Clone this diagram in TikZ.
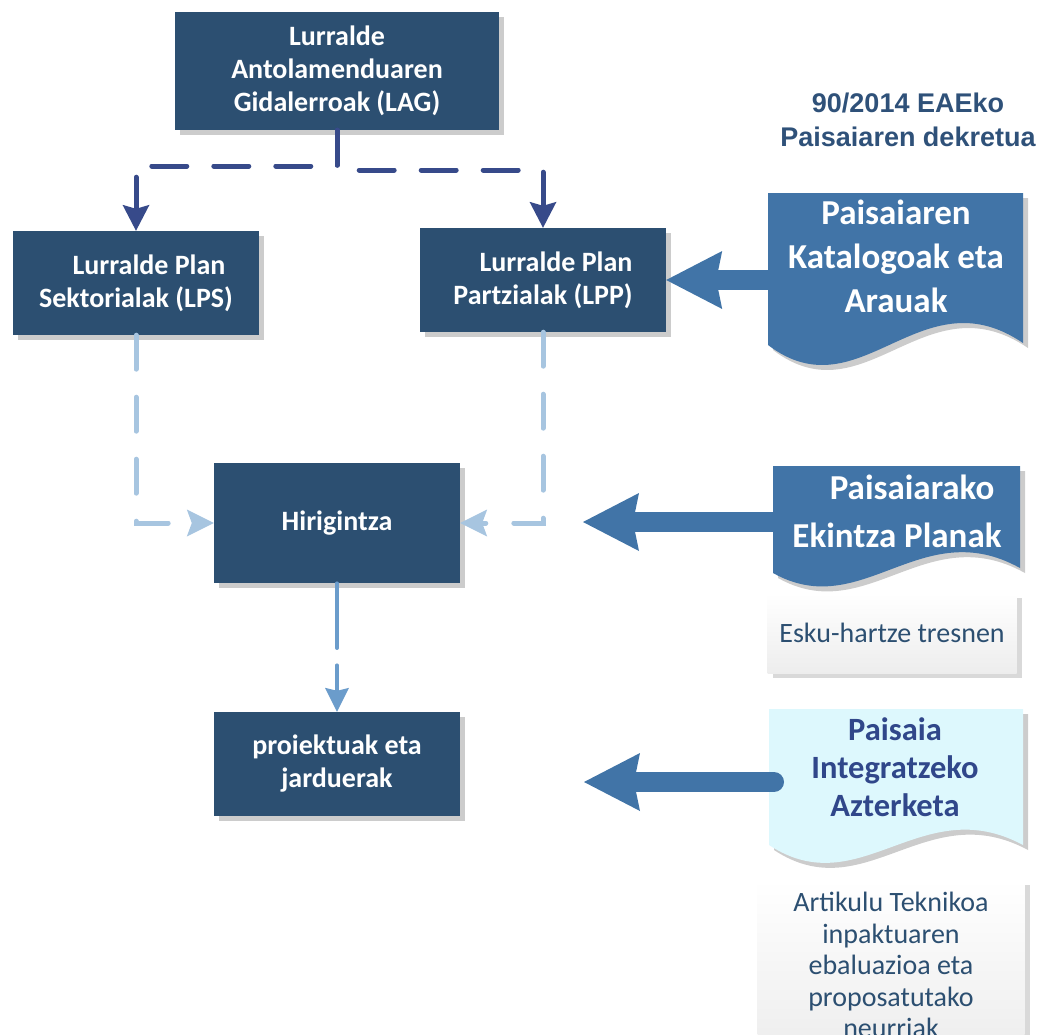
\documentclass[tikz,border=0pt]{standalone}
\usepackage{fontspec}
\setmainfont{Carlito}
\newfontfamily\titlefont{Liberation Sans}
\usetikzlibrary{positioning, arrows.meta, shadows}
\definecolor{boxblue}{HTML}{2C4F71}
\definecolor{navyline}{HTML}{374A8A}
\definecolor{docblue}{HTML}{4174A7}
\definecolor{lightline}{HTML}{A7C5E0}
\definecolor{midline}{HTML}{6B9CCB}
\definecolor{palecyan}{HTML}{DDF8FD}
\definecolor{navytext}{HTML}{30478A}
\definecolor{titleblue}{HTML}{2F5179}

\begin{document}
\begin{tikzpicture}[x=1pt, y=-1pt,
  planbox/.style={rectangle, fill=boxblue, text=white, align=center, inner sep=0pt,
    minimum width=246pt, minimum height=104pt, font=\bfseries\fontsize{28}{33}\selectfont,
    drop shadow={shadow xshift=5pt, shadow yshift=-5pt, fill=black!20, opacity=1}},
  notebox/.style={rectangle, top color=white, bottom color=black!7, text=boxblue, align=center,
    inner sep=0pt, font=\fontsize{28}{31.5}\selectfont,
    drop shadow={shadow xshift=5pt, shadow yshift=-5pt, fill=black!15, opacity=1}},
  navydash/.style={draw=navyline, line width=5pt, line cap=round, dash pattern=on 35pt off 27pt,
    -{Stealth[length=26pt, width=27pt, inset=4pt, line width=0pt]}},
  lightdash/.style={draw=lightline, line width=5pt, line cap=round, dash pattern=on 34pt off 28pt,
    -{Stealth[length=27pt, width=27pt, inset=5pt, line width=0pt]}},
  middash/.style={draw=midline, line width=3.5pt, line cap=round, dash pattern=on 65pt off 17pt,
    -{Stealth[length=24pt, width=24pt, inset=3pt, line width=0pt]}},
  fatarrow/.style={draw=docblue, line width=20pt,
    -{Stealth[length=56pt, width=58pt, inset=6pt, line width=0pt]}}]
\useasboundingbox (0,0) rectangle (1044,1034);

% Plan boxes
\node[planbox, minimum width=324pt, minimum height=118pt] (lag) at (337,71) {Lurralde\\Antolamenduaren\\Gidalerroak (LAG)};
\node[planbox] (lps) at (136,283) {\hspace*{26pt}Lurralde Plan\\Sektorialak (LPS)};
\node[planbox] (lpp) at (543,280) {\hspace*{26pt}Lurralde Plan\\Partzialak (LPP)};
\node[planbox, minimum height=120pt] (hiri) at (337,523) {Hirigintza};
\node[planbox] (proj) at (337,764) {proiektuak eta\\jarduerak};

% Decree title
\node[font=\titlefont\bfseries\fontsize{27}{34}\selectfont, text=titleblue, align=center] (title) at (908,120) {90/2014 EAEko\\Paisaiaren dekretua};

% Document shapes (wavy bottom)
\fill[black!20, xshift=5pt, yshift=-5pt] (768,193) -- (1023,193) -- (1023,343) .. controls (920,273) and (860,415) .. (768,345) -- cycle;
\fill[docblue] (768,193) -- (1023,193) -- (1023,343) .. controls (920,273) and (860,415) .. (768,345) -- cycle;
\node[text=white, align=center, font=\bfseries\fontsize{35}{44}\selectfont] (katalog) at (896,256) {Paisaiaren\\Katalogoak eta\\Arauak};

\fill[black!20, xshift=5pt, yshift=-5pt] (773,466) -- (1020,466) -- (1020,568) .. controls (921,513) and (862,623) .. (773,573) -- cycle;
\fill[docblue] (773,466) -- (1020,466) -- (1020,568) .. controls (921,513) and (862,623) .. (773,573) -- cycle;
\node[text=white, align=center, font=\bfseries\fontsize{35}{48}\selectfont] (ekintza) at (897,511) {\hspace*{30pt}Paisaiarako\\Ekintza Planak};

\fill[black!20, xshift=5pt, yshift=-5pt] (769,709) -- (1023,709) -- (1023,845) .. controls (921,790) and (860,905) .. (769,845) -- cycle;
\fill[palecyan] (769,709) -- (1023,709) -- (1023,845) .. controls (921,790) and (860,905) .. (769,845) -- cycle;
\node[text=navytext, align=center, font=\bfseries\fontsize{32.5}{38}\selectfont] (azterketa) at (895,767) {Paisaia\\Integratzeko\\Azterketa};

% Note boxes
\node[notebox, minimum width=249pt, minimum height=80pt] (esku) at (892,633) {Esku-hartze tresnen};
\node[notebox, minimum width=267pt, minimum height=170pt] (artikulu) at (891,965) {Artikulu Teknikoa\\inpaktuaren\\ebaluazioa eta\\proposatutako\\neurriak};

% Connectors
\coordinate (lag-split-l) at (337,166);
\coordinate (lag-split-r) at (337,170);
\draw[navydash] (lag.south) -- (lag-split-l) -| (lps.north);
\draw[navydash] (lag.south) -- (lag-split-r) -| (lpp.north);
\draw[lightdash] (lps.south) |- (hiri.west);
\draw[lightdash] (lpp.south) |- (hiri.east);
\draw[middash] (hiri.south) -- (proj.north);

% Fat arrows from the decree documents
\coordinate (katalog-in) at (768,280);
\coordinate (ekintza-in) at (773,522);
\coordinate (ekintza-tip) at (583,522);
\coordinate (azterketa-in) at (774,782);
\coordinate (azterketa-tip) at (584,782);
\draw[fatarrow] (katalog-in) -- (lpp);
\draw[fatarrow] (ekintza-in) -- (ekintza-tip);
\draw[fatarrow, line cap=round] (azterketa-in) -- (azterketa-tip);
\end{tikzpicture}
\end{document}
